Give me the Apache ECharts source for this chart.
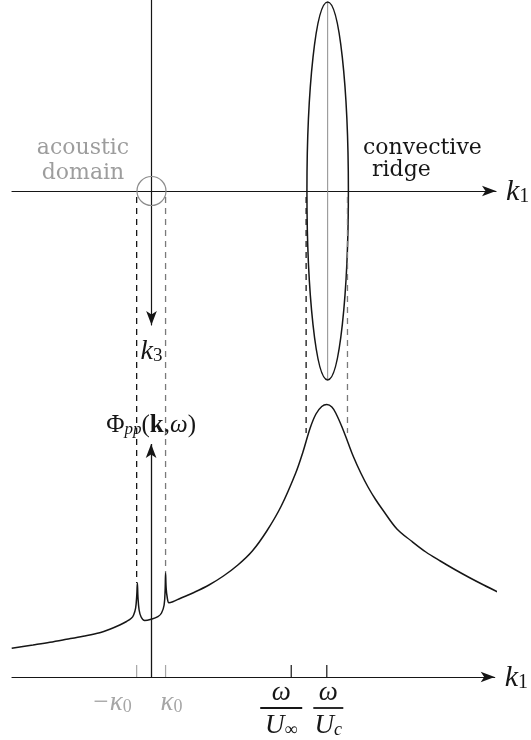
<!DOCTYPE html>
<html><head><meta charset="utf-8">
<script src="https://cdn.jsdelivr.net/npm/echarts@6/dist/echarts.min.js"></script>
<style>html,body{margin:0;padding:0;background:#fff}#c{width:531px;height:740px}</style>
</head><body><div id="c"></div>
<script>
// ---------- data (wavenumbers in units of kappa0) ----------
const kappa0 = 1;
const omegaOverUinf = 9.69;
const omegaOverUc = 12.15;
const ridgeHalfWidth = 1.43;
const ridgeHalfLength = 13.03;

// wall-pressure spectrum Phi_pp(k, omega) along k1 (arbitrary units)
const curveK1 = [-9.64, -8.17, -7.0, -5.85, -4.7, -3.55, -2.9, -2.17, -1.7, -1.37, -1.21, -1.07, -0.99, -0.95, -0.91, -0.83, -0.69, -0.45, 0, 0.47, 0.72, 0.90, 0.97, 1.0, 1.04, 1.12, 1.23, 1.5, 2, 3, 4, 5, 6, 7, 8, 9, 10, 10.5, 11.0, 11.4, 11.8, 12.15, 12.5, 12.8, 13.2, 13.6, 14.0, 14.5, 15.0, 15.5, 16.0, 17.0, 18.0, 19.0, 20.0, 21.0, 22.0, 23.0, 24.26];
const curvePhi = [2.87, 3.2, 3.47, 3.77, 4.08, 4.43, 4.75, 5.2, 5.55, 5.87, 6.2, 6.9, 8.2, 9.4, 8.0, 6.7, 6.0, 5.65, 5.77, 6.03, 6.4, 7.2, 8.7, 10.4, 8.9, 7.9, 7.43, 7.53, 7.85, 8.48, 9.2, 10.1, 11.2, 12.6, 14.6, 17.1, 20.4, 22.5, 24.9, 26.3, 27.05, 27.25, 27.0, 26.3, 25.0, 23.5, 22.0, 20.4, 19.0, 17.8, 16.75, 14.8, 13.6, 12.5, 11.6, 10.75, 9.95, 9.2, 8.3];

const tickValues = [-kappa0, kappa0, omegaOverUinf, omegaOverUc];
const tickNumerators = ['', '', 'ω', 'ω'];
const tickNames = ['{i|−κ}{s|0}', '{i|κ}{s|0}', '{i|U}{s|∞}', '{i|U}{si|c}'];

const dashK1 = [-kappa0, kappa0, omegaOverUc - ridgeHalfWidth, omegaOverUc + ridgeHalfWidth];
const dashPhiEnd = [9.4, 10.4, 24.4, 24.4];
const phiAxisTop = 23.3;

const k1Min = -9.62, k1Max = 23.76;
const k3Min = -13.17, k3Max = 9.24;
const phiMax = 48.6;

// ---------- styles ----------
const INK = '#161616', GREY = '#8c8c8c', LIGHT = '#a6a6a6';
const tickColors = [LIGHT, LIGHT, INK, INK];
const tickLabelDx = [-25, 6, -10, 1.5];
const fracBar = [0, 0, 42, 30];
const dashColors = [INK, '#7a7a7a', INK, '#7a7a7a'];
const MF = '"Liberation Serif", "DejaVu Serif", serif';

function mathRich(col) {
  return {
    i: {fontFamily: MF, fontStyle: 'italic', fontSize: 27, lineHeight: 30, verticalAlign: 'bottom', color: col, fill: col},
    s: {fontFamily: MF, fontSize: 18, lineHeight: 14, verticalAlign: 'bottom', color: col, fill: col},
    si: {fontFamily: MF, fontStyle: 'italic', fontSize: 18, lineHeight: 14, verticalAlign: 'bottom', color: col, fill: col}
  };
}
const nameRich = {
  k: {fontFamily: MF, fontStyle: 'italic', fontSize: 30, lineHeight: 32, verticalAlign: 'bottom', color: INK},
  s: {fontFamily: MF, fontSize: 20, lineHeight: 16, verticalAlign: 'bottom', color: INK}
};

const chart = echarts.init(document.getElementById('c'), null, {renderer: 'canvas'});
const option = {
  backgroundColor: '#fff',
  animation: false,
  grid: [
    {left: 12, right: 35, top: 0, height: 325},
    {left: 12, right: 35, top: 191, height: 486}
  ],
  xAxis: [
    {gridIndex: 0, type: 'value', min: k1Min, max: k1Max, splitLine: {show: false},
     axisTick: {show: false}, axisLabel: {show: false},
     axisLine: {show: true, onZero: true, symbol: ['none', 'arrow'], symbolSize: [8, 14], lineStyle: {color: INK, width: 1.2}},
     name: '{k|k}{s|1}', nameLocation: 'end', nameGap: 10, nameTextStyle: {rich: nameRich, verticalAlign: 'middle', align: 'left'}},
    {gridIndex: 1, type: 'value', min: k1Min, max: k1Max, splitLine: {show: false},
     axisTick: {show: false}, axisLabel: {show: false},
     axisLine: {show: true, onZero: false, symbol: ['none', 'arrow'], symbolSize: [8, 14], lineStyle: {color: INK, width: 1.2}},
     name: '{k|k}{s|1}', nameLocation: 'end', nameGap: 10, nameTextStyle: {rich: nameRich, verticalAlign: 'middle', align: 'left'}}
  ],
  yAxis: [
    {gridIndex: 0, type: 'value', inverse: true, min: k3Min, max: k3Max, splitLine: {show: false},
     axisTick: {show: false}, axisLabel: {show: false},
     axisLine: {show: true, onZero: true, symbol: ['arrow', 'none'], symbolSize: [8, 14], lineStyle: {color: INK, width: 1.2}},
     name: '{k|k}{s|3}', nameLocation: 'end', nameGap: 11, nameTextStyle: {rich: {
       k: {fontFamily: MF, fontStyle: 'italic', fontSize: 28, lineHeight: 30, verticalAlign: 'bottom', color: INK},
       s: {fontFamily: MF, fontSize: 19, lineHeight: 15, verticalAlign: 'bottom', color: INK}}}},
    {gridIndex: 1, type: 'value', min: 0, max: phiMax, show: false}
  ],
  graphic: [
    {type: 'text', x: 83, y: 161, style: {text: 'acoustic\ndomain', font: '22px "DejaVu Serif"', fill: '#9d9d9d', align: 'center', verticalAlign: 'middle', lineHeight: 25}},
    {type: 'text', x: 363, y: 148, style: {text: 'convective', font: '22px "DejaVu Serif"', fill: INK, align: 'left', verticalAlign: 'middle'}},
    {type: 'text', x: 372, y: 170, style: {text: 'ridge', font: '22px "DejaVu Serif"', fill: INK, align: 'left', verticalAlign: 'middle'}}
  ],
  series: [
    {
      type: 'custom', name: 'k-plane', xAxisIndex: 0, yAxisIndex: 0, clip: false, silent: true,
      data: [[0, 0, kappa0, kappa0], [omegaOverUc, 0, ridgeHalfWidth, ridgeHalfLength]],
      renderItem: function (params, api) {
        const c = api.coord([api.value(0), api.value(1)]);
        const s = api.size([api.value(2), api.value(3)]);
        if (params.dataIndex === 0) {
          return {type: 'ellipse', shape: {cx: c[0], cy: c[1], rx: s[0], ry: s[0]}, style: {fill: 'none', stroke: GREY, lineWidth: 1.2}};
        }
        return {type: 'group', children: [
          {type: 'line', shape: {x1: c[0], y1: c[1] - s[1], x2: c[0], y2: c[1] + s[1]}, style: {stroke: GREY, lineWidth: 1}},
          {type: 'ellipse', shape: {cx: c[0], cy: c[1], rx: s[0], ry: s[1]}, style: {fill: 'none', stroke: INK, lineWidth: 1.5}}
        ]};
      }
    },
    {
      type: 'line', name: 'spectrum', xAxisIndex: 1, yAxisIndex: 1, clip: false, silent: true,
      showSymbol: false, smooth: 0.35,
      lineStyle: {color: INK, width: 1.5},
      data: curveK1.map((x, i) => [x, curvePhi[i]]),
      markLine: {
        silent: true, symbol: ['none', 'arrow'], symbolSize: [8, 14],
        lineStyle: {color: INK, width: 1.3, type: 'solid'},
        label: {show: true, position: 'end', distance: 6, formatter: '{P|Φ}{s|pp}{P|(}{b|k}{P|,}{w|ω}{P|)}',
          rich: {
            P: {fontFamily: MF, fontSize: 25, lineHeight: 28, verticalAlign: 'bottom', color: INK},
            b: {fontFamily: MF, fontWeight: 'bold', fontSize: 25, lineHeight: 28, verticalAlign: 'bottom', color: INK},
            w: {fontFamily: MF, fontStyle: 'italic', fontSize: 25, lineHeight: 28, verticalAlign: 'bottom', color: INK},
            s: {fontFamily: MF, fontStyle: 'italic', fontSize: 17, lineHeight: 13, verticalAlign: 'bottom', color: INK}
          }},
        data: [[{coord: [0, 0]}, {coord: [0, phiAxisTop]}]]
      }
    },
    {
      type: 'custom', name: 'projections', xAxisIndex: 1, yAxisIndex: 1, clip: false, silent: true,
      data: dashK1.map((x, i) => [x, dashPhiEnd[i]]),
      renderItem: function (params, api) {
        const a = api.coord([api.value(0), phiMax]);
        const b = api.coord([api.value(0), api.value(1)]);
        return {type: 'line', shape: {x1: a[0], y1: a[1] + 6, x2: b[0], y2: b[1]},
          style: {stroke: dashColors[params.dataIndex], lineWidth: 1.3, lineDash: [6, 5]}};
      }
    },
    {
      type: 'custom', name: 'ticks', xAxisIndex: 1, yAxisIndex: 1, clip: false, silent: true,
      data: tickValues.map((x) => [x, 0]),
      renderItem: function (params, api) {
        const i = params.dataIndex;
        const p = api.coord([api.value(0), 0]);
        const col = tickColors[i];
        const cx = p[0] + tickLabelDx[i];
        const ch = [{type: 'line', shape: {x1: p[0], y1: p[1], x2: p[0], y2: p[1] - 12}, style: {stroke: col, lineWidth: 1.2}}];
        if (tickNumerators[i]) {
          ch.push({type: 'text', style: {text: tickNumerators[i], x: cx, y: p[1] + 16, align: 'center', verticalAlign: 'middle', font: 'italic 27px ' + MF, fill: col}});
          ch.push({type: 'line', shape: {x1: cx - fracBar[i] / 2, y1: p[1] + 31, x2: cx + fracBar[i] / 2, y2: p[1] + 31}, style: {stroke: col, lineWidth: 1.8}});
          ch.push({type: 'text', style: {text: tickNames[i], rich: mathRich(col), x: cx, y: p[1] + 47, align: 'center', verticalAlign: 'middle', fill: col}});
        } else {
          ch.push({type: 'text', style: {text: tickNames[i], rich: mathRich(col), x: cx, y: p[1] + 24, align: 'center', verticalAlign: 'middle', fill: col}});
        }
        return {type: 'group', children: ch};
      }
    }
  ]
};
chart.setOption(option);
</script></body></html>
